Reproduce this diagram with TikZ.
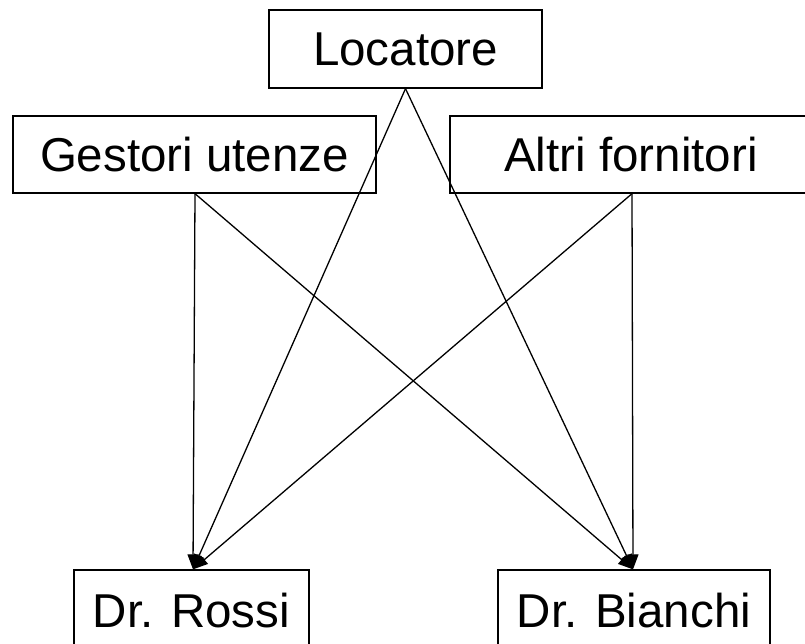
\documentclass[tikz,border=0pt]{standalone}
\usepackage{fontspec}
\setmainfont{Liberation Sans}
\usetikzlibrary{arrows.meta}
\begin{document}
\begin{tikzpicture}[x=1bp,y=-1bp,
  box/.style={draw, line width=1.3bp, rectangle, inner sep=0pt, text height=34bp, text depth=0pt,
    font=\fontsize{47.5bp}{53bp}\selectfont},
  conn/.style={line width=1.3bp, -{Triangle[length=15bp,width=11bp]}, shorten >=0pt}]
\useasboundingbox (0,0) rectangle (805,644);
\node[box, minimum width=273bp, minimum height=78bp] (loc) at (405.5,49) {Locatore};
\node[box, minimum width=363bp, minimum height=77bp] (ges) at (194.5,154.5) {Gestori utenze};
\node[box, minimum width=362bp, minimum height=77bp] (alt) at (631,154.5) {Altri fornitori};
\node[box, minimum width=235bp, minimum height=81bp] (ros) at (191.5,610.5) {Dr. Rossi};
\node[box, minimum width=272bp, minimum height=81bp] (bia) at (634,610.5) {Dr. Bianchi};
\coordinate (locs) at (loc.south);
\coordinate (gess) at ([xshift=0.5bp]ges.south);
\coordinate (alts) at ([xshift=1bp]alt.south);
\coordinate (rost) at ([xshift=1.5bp]ros.north);
\coordinate (biat) at ([xshift=-1bp]bia.north);
\draw[conn] (locs) -- (rost);
\draw[conn] (locs) -- (biat);
\draw[conn] (gess) -- (rost);
\draw[conn] (gess) -- (biat);
\draw[conn] (alts) -- (rost);
\draw[conn] (alts) -- (biat);
\end{tikzpicture}
\end{document}
